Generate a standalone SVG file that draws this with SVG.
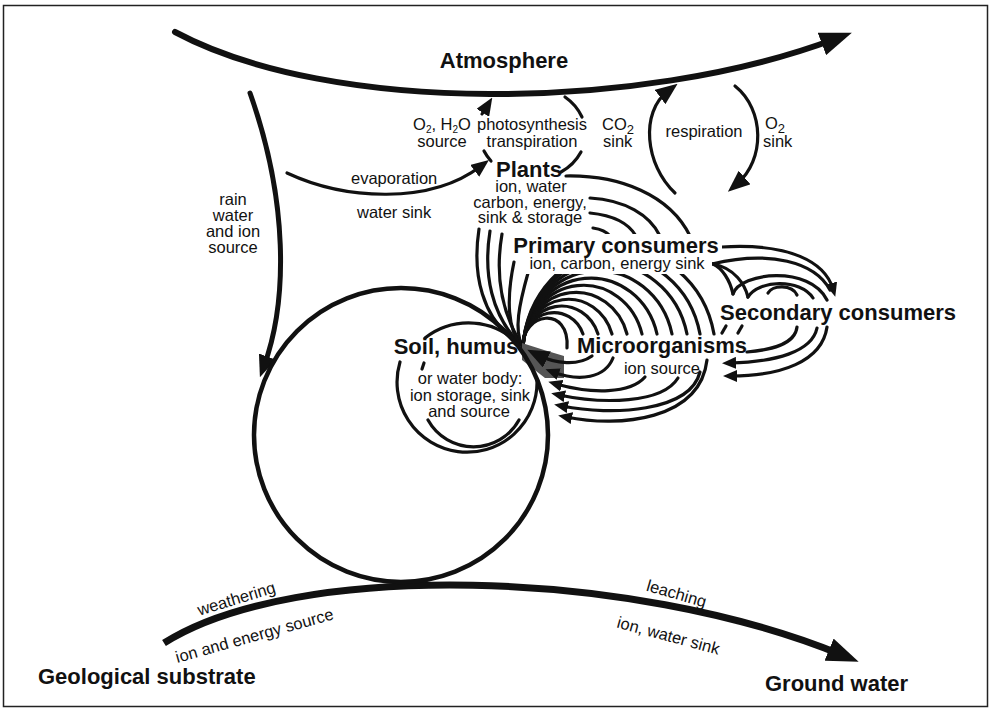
<svg xmlns="http://www.w3.org/2000/svg" width="991" height="711" viewBox="0 0 991 711">
<style>
.t{font-family:"Liberation Sans",Arial,Helvetica,sans-serif;font-size:16.5px;fill:#111}
.b{font-weight:bold;font-size:22px}
.m{text-anchor:middle}
.ln{fill:none;stroke:#111;stroke-width:3.2;stroke-linecap:round}
.w6{stroke-width:6}
.w7{stroke-width:7;stroke-linecap:butt}
.w5{stroke-width:5}
.bg{fill:#fff;stroke:none}
</style>
<defs>
<marker id="mBig" markerUnits="userSpaceOnUse" markerWidth="32" markerHeight="24" refX="14" refY="12" orient="auto"><path d="M0,0 L32,12 L0,24 z" fill="#111"/></marker>
<marker id="mMed" markerUnits="userSpaceOnUse" markerWidth="22" markerHeight="18" refX="10" refY="9" orient="auto"><path d="M0,0 L22,9 L0,18 z" fill="#111"/></marker>
<marker id="mEv" markerUnits="userSpaceOnUse" markerWidth="18" markerHeight="15" refX="8" refY="7.5" orient="auto"><path d="M0,0 L18,7.5 L0,15 z" fill="#111"/></marker>
<marker id="mSm" markerUnits="userSpaceOnUse" markerWidth="14" markerHeight="12" refX="6" refY="6" orient="auto"><path d="M0,0 L14,6 L0,12 z" fill="#111"/></marker>
</defs>
<rect x="3.5" y="5.5" width="984" height="701" fill="#fff" stroke="#222" stroke-width="1.5"/>

<g id="connectors">
<path class="ln w6" d="M175,32 C330,115 640,112 835,39" marker-end="url(#mBig)"/>
<path class="ln w7" d="M164,643 C295,560 630,568 842,655" marker-end="url(#mBig)"/>
<path class="ln w5" d="M250,93 C288,200 288,300 264,366" marker-end="url(#mMed)"/>
<path class="ln" d="M287,173 C345,200 430,205 481,166" marker-end="url(#mEv)"/>
<path class="ln" d="M482,114 L487,106" marker-end="url(#mEv)"/>
<path class="ln" d="M565,97 A50,50 0 0 1 582,117"/>
<path class="ln" d="M581,152 A50,50 0 0 1 561,172"/>
<path class="ln" d="M484,151 A50,50 0 0 0 491,161"/>
<path class="ln" d="M675,193 C645,165 640,112 668,91" marker-end="url(#mMed)"/>
<path class="ln" d="M735,86 C765,110 765,160 737,184" marker-end="url(#mMed)"/>
<path class="ln" d="M566,176 C620,175 670,195 690,236"/>
<path class="ln" d="M590,198 C625,200 650,215 660,236"/>
<path class="ln" d="M590,213 C610,215 628,222 636,236"/>
<path class="ln" d="M593,228 C600,229 606,231 610,236"/>
<path class="ln" d="M479,229 C472,275 482,318 518,344"/>
<path class="ln" d="M490,231 C483,275 492,315 519,343"/>
<path class="ln" d="M502,234 C495,275 502,312 520,342"/>
<path class="ln" d="M514,262 C506,300 508,330 521,345"/>
<path class="ln" d="M528,273 C519,305 514,330 522,345"/>
<path class="ln" d="M523,347 C522,312 570,305 567,348"/>
<path class="ln" d="M523,347 A31,33 0 0 1 583,334"/>
<path class="ln" d="M523,347 A38.5,41 0 0 1 598,334"/>
<path class="ln" d="M523,347 A45.5,49 0 0 1 612,334"/>
<path class="ln" d="M523,347 A53,57 0 0 1 627,334"/>
<path class="ln" d="M523,347 A60.5,65 0 0 1 642,334"/>
<path class="ln" d="M523,347 A68,73 0 0 1 657,334"/>
<path class="ln" d="M523,347 A75.5,81 0 0 1 672,334"/>
<path class="ln" d="M523,347 A83,89 0 0 1 687,334"/>
<path class="ln" d="M523,347 A89.5,97 0 0 1 700,334"/>
<path class="ln" d="M523,347 A96.5,105 0 0 1 714,334"/>
<path class="ln" d="M722,333 L726,326"/>
<path class="ln" d="M738,333 L742,326"/>
<polygon points="522,343 544,350 564,356 564,378 545,378 522,360" fill="#555"/>
<path class="ln" d="M592,356 C578,366 556,364 538,355" marker-end="url(#mMed)"/>
<path class="ln" d="M613,358 C605,378 580,382 553,372" marker-end="url(#mSm)"/>
<path class="ln" d="M645,377 C630,394 592,394 556,384" marker-end="url(#mSm)"/>
<path class="ln" d="M678,378 C662,404 602,404 559,395" marker-end="url(#mSm)"/>
<path class="ln" d="M700,372 C690,412 612,416 562,406" marker-end="url(#mSm)"/>
<path class="ln" d="M707,360 C700,420 620,428 566,417" marker-end="url(#mSm)"/>
<path class="ln" d="M722,247 C790,243 825,262 833,289" marker-end="url(#mSm)"/>
<path class="ln" d="M712,264 C770,250 815,262 830,290"/>
<path class="ln" d="M713,264 C722,268 730,280 733,294"/>
<path class="ln" d="M713,264 C735,268 745,285 748,297"/>
<path class="ln" d="M733,294 C740,272 810,265 827,300"/>
<path class="ln" d="M748,297 C758,280 800,278 813,298"/>
<path class="ln" d="M768,293 C772,285 792,284 797,295"/>
<path class="ln" d="M797,327 C795,345 770,350 747,352"/>
<path class="ln" d="M817,328 C812,352 775,362 730,363" marker-end="url(#mSm)"/>
<path class="ln" d="M827,327 C822,362 780,376 731,376" marker-end="url(#mSm)"/>
</g>

<g id="flow-labels">
<text class="t m" x="233" y="205">rain</text>
<text class="t m" x="233" y="221">water</text>
<text class="t m" x="233" y="237">and ion</text>
<text class="t m" x="233" y="253">source</text>
<text class="t" x="351" y="184">evaporation</text>
<text class="t" x="357" y="218">water sink</text>
<text class="t m" x="442" y="130">O<tspan font-size="10" dy="3">2</tspan><tspan dy="-3">, H</tspan><tspan font-size="10" dy="3">2</tspan><tspan dy="-3">O</tspan></text>
<text class="t m" x="442" y="147">source</text>
<text class="t m" x="532" y="130">photosynthesis</text>
<text class="t m" x="532" y="147">transpiration</text>
<text class="t" x="602" y="130">CO<tspan font-size="13" dy="4">2</tspan></text>
<text class="t" x="603" y="147">sink</text>
<text class="t m" x="704" y="137">respiration</text>
<text class="t" x="765" y="129">O<tspan font-size="13" dy="4">2</tspan></text>
<text class="t" x="763" y="147">sink</text>
<text class="t m" transform="translate(238,604) rotate(-17)">weathering</text>
<text class="t m" transform="translate(256,641) rotate(-15.6)">ion and energy source</text>
<text class="t m" transform="translate(675,599) rotate(16)">leaching</text>
<text class="t m" transform="translate(667,641) rotate(15)">ion, water sink</text>
</g>

<g id="atmosphere">
<text class="t b m" x="504" y="68">Atmosphere</text>
</g>

<g id="plants">
<text class="t b m" x="529" y="177">Plants</text>
<text class="t m" x="531" y="192">ion, water</text>
<text class="t m" x="530" y="208">carbon, energy,</text>
<text class="t m" x="530" y="223">sink &amp; storage</text>
</g>

<g id="primary-consumers">
<rect class="bg" x="508" y="234" width="214" height="24"/>
<rect class="bg" x="524" y="258" width="188" height="16"/>
<text class="t b m" x="616" y="253">Primary consumers</text>
<text class="t m" x="617" y="269">ion, carbon, energy sink</text>
</g>

<g id="secondary-consumers">
<text class="t b m" x="838" y="320">Secondary consumers</text>
</g>

<g id="microorganisms">
<text class="t b m" x="662" y="353">Microorganisms</text>
<text class="t m" x="662" y="374">ion source</text>
</g>

<g id="soil">
<circle cx="401" cy="435" r="147" fill="none" stroke="#111" stroke-width="4.5"/>
<path class="ln" d="M400,362 A70,70 0 1 0 537,380"/>
<path class="ln" d="M425,338 A70,70 0 0 1 512,338"/>
<path class="ln" d="M428,420 A52,52 0 0 0 519,420"/>
<path class="ln" d="M424,363 L422,369"/>
<text class="t b m" x="456" y="354">Soil, humus</text>
<text class="t m" x="470" y="384">or water body:</text>
<text class="t m" x="470" y="401">ion storage, sink</text>
<text class="t m" x="469" y="417">and source</text>
</g>

<g id="geological-substrate">
<text class="t b" x="38" y="684">Geological substrate</text>
</g>

<g id="ground-water">
<text class="t b" x="765" y="691">Ground water</text>
</g>
</svg>
